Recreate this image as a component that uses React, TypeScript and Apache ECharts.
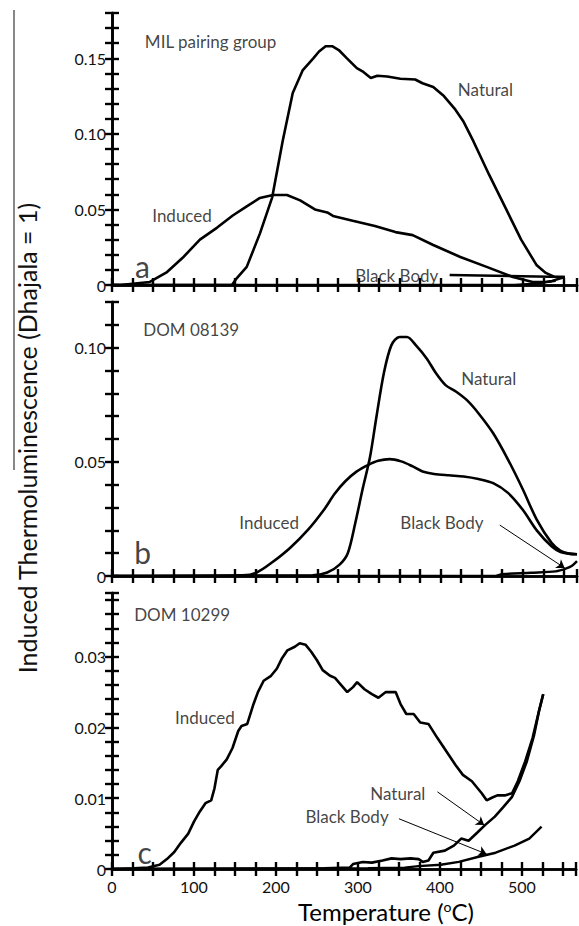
import React, { useEffect, useRef } from "react";
import * as echarts from "echarts";

// ---------- data ----------
const X_MAX = 566;
const X_TICK = 25;
const X_LABELS = [0, 100, 200, 300, 400, 500];
const Y_MAX = [0.18, 0.12, 0.039];
const Y_TICK = [0.01, 0.01, 0.002];
const Y_LABEL_STEP = [0.05, 0.05, 0.01];

// Panel a — MIL pairing group
const naturalA = [[0,0],[146,0],[152,0.0046],[164,0.012],[180,0.034],[195,0.058],[208,0.096],[220,0.127],[232,0.142],[245,0.150],[252,0.1545],[260,0.158],[268,0.158],[276,0.1555],[286,0.150],[298,0.1435],[306,0.141],[315,0.137],[323,0.1385],[335,0.138],[351,0.1365],[369,0.136],[378,0.1335],[391,0.131],[404,0.125],[418,0.116],[428,0.108],[440,0.095],[459,0.073],[479,0.051],[498,0.030],[517,0.013],[528,0.008],[538,0.0055],[551,0.0053]];
const inducedA = [[0,0],[10,0],[46,0.002],[67,0.0086],[86,0.018],[107,0.030],[128,0.038],[147,0.046],[164,0.052],[180,0.0576],[196,0.0596],[213,0.0596],[229,0.056],[247,0.050],[262,0.048],[269,0.0457],[293,0.0425],[320,0.039],[345,0.035],[366,0.033],[391,0.0265],[424,0.0185],[456,0.012],[488,0.0053],[512,0.002],[530,0.0022],[540,0.0028]];
const blackBodyA = [[0,0],[490,0],[515,0.0008],[535,0.0025],[551,0.0053]];

// Panel b — DOM 08139
const naturalB = [[0,0],[244,0.0003],[262,0.0015],[277,0.005],[287,0.010],[296,0.023],[305,0.038],[314,0.052],[322,0.070],[331,0.089],[340,0.101],[350,0.1047],[359,0.1047],[370,0.101],[383,0.0953],[394,0.089],[406,0.0836],[419,0.0807],[432,0.077],[446,0.0713],[464,0.0625],[482,0.051],[500,0.038],[517,0.0247],[535,0.0145],[546,0.011],[556,0.0098],[566,0.0095]];
const inducedB = [[0,0],[159,0.0003],[176,0.0015],[195,0.006],[217,0.0124],[239,0.0204],[258,0.029],[271,0.036],[284,0.0415],[298,0.0458],[312,0.0487],[324,0.0505],[338,0.0512],[352,0.0502],[366,0.048],[378,0.0458],[392,0.0447],[410,0.0441],[428,0.0436],[446,0.0425],[464,0.0407],[482,0.0364],[500,0.029],[517,0.020],[535,0.013],[546,0.0105],[556,0.0098],[566,0.0095]];
const blackBodyB = [[0,0],[465,0],[475,0.0008],[510,0.0014],[540,0.002],[553,0.0033],[560,0.0045],[566,0.0065]];

// Panel c — DOM 10299
const inducedC = [[0,0],[27,0.0001],[44,0.0002],[58,0.0006],[67,0.0014],[76,0.0024],[84,0.0037],[93,0.0050],[100,0.0067],[107,0.0081],[114,0.0093],[121,0.0097],[125,0.0114],[129,0.0140],[133,0.0145],[140,0.0155],[147,0.0171],[154,0.0195],[158,0.0202],[165,0.0205],[172,0.0231],[178,0.0250],[185,0.0266],[194,0.0273],[201,0.0283],[207,0.0297],[214,0.0309],[223,0.0314],[229,0.0319],[236,0.0317],[243,0.0307],[250,0.0295],[257,0.0281],[266,0.0273],[272,0.0270],[278,0.0262],[287,0.0250],[294,0.0257],[299,0.0264],[308,0.0254],[317,0.0247],[325,0.0242],[334,0.0250],[346,0.0250],[352,0.0233],[359,0.0219],[368,0.0219],[376,0.0207],[386,0.0205],[397,0.0185],[408,0.0166],[419,0.0147],[428,0.0133],[439,0.0124],[451,0.0107],[457,0.0097],[464,0.0101],[470,0.0104],[479,0.0104],[488,0.0107],[495,0.0124],[504,0.0152],[513,0.0185],[521,0.0224],[526,0.0247]];
const naturalC = [[0,0],[259,0.0001],[290,0.0002],[294,0.0007],[306,0.0010],[317,0.0009],[330,0.0012],[341,0.0015],[352,0.0014],[364,0.0015],[374,0.0014],[379,0.0010],[386,0.0012],[392,0.0023],[406,0.0026],[417,0.0033],[426,0.0043],[435,0.0040],[446,0.0052],[455,0.0062],[467,0.0074],[477,0.0087],[488,0.0102],[497,0.0124],[506,0.0152],[515,0.0190],[521,0.0224],[526,0.0247]];
const blackBodyC = [[0,0],[312,0.0001],[357,0.0002],[374,0.0004],[401,0.0006],[423,0.0010],[446,0.0017],[468,0.0023],[491,0.0033],[509,0.0043],[524,0.0060]];

// Annotations: [T, value, text, size]
const notesA = [[40,0.161,"MIL pairing group",17],[421,0.1297,"Natural",17],[49,0.0463,"Induced",17],[28,0.0125,"a",30],[296,0.0066,"Black Body",17]];
const notesB = [[38,0.108,"DOM 08139",17],[425,0.0865,"Natural",17],[155,0.0233,"Induced",17],[351,0.0233,"Black Body",17],[27,0.0105,"b",30]];
const notesC = [[27,0.0359,"DOM 10299",17],[77,0.0214,"Induced",17],[315,0.0107,"Natural",17],[236,0.0074,"Black Body",17],[31,0.0024,"c",30]];

// Pointer lines: [[x1,y1],[x2,y2], width, arrow]
const pointersA = [[[411,0.0066],[551,0.0053],2.5,false]];
const pointersB = [[[472,0.0223],[551,0.0035],1,true]];
const pointersC = [[[397,0.0109],[454,0.0062],1,true],[[350,0.0071],[457,0.0021],1,true]];

const GRIDS = [
  { left: 112, top: 13, width: 465, height: 272 },
  { left: 112, top: 302, width: 465, height: 274 },
  { left: 112, top: 593, width: 465, height: 276 },
];

const FONT = "Lato";

export default function App() {
  const ref = useRef<HTMLDivElement>(null);
  useEffect(() => {
    if (!ref.current) return;
    const chart = echarts.init(ref.current, undefined, { renderer: "svg" });
    const black = "#000";
    const xAxes: any[] = [];
    const yAxes: any[] = [];
    const series: any[] = [];
    const panels = [
      { nat: naturalA, ind: inducedA, bb: blackBodyA, notes: notesA, ptr: pointersA, smooth: false },
      { nat: naturalB, ind: inducedB, bb: blackBodyB, notes: notesB, ptr: pointersB, smooth: 0.3 },
      { nat: naturalC, ind: inducedC, bb: blackBodyC, notes: notesC, ptr: pointersC, smooth: false },
    ];
    panels.forEach((p, i) => {
      const axisLine = { show: true, lineStyle: { color: black, width: 2.6 } };
      const tick = { show: true, inside: true, length: 7, lineStyle: { color: black, width: 2.4 } };
      xAxes.push({
        type: "value", gridIndex: i, min: 0, max: X_MAX, interval: X_TICK, position: "bottom",
        axisLine, axisTick: tick, splitLine: { show: false },
        axisLabel: i === 2 ? {
          show: true, margin: 9, fontFamily: FONT, fontSize: 16, lineHeight: 16, color: "#111",
          formatter: (v: number) => (X_LABELS.includes(v) ? String(v) : ""),
        } : { show: false },
      });
      xAxes.push({
        type: "value", gridIndex: i, min: 0, max: X_MAX, interval: X_TICK, position: "top",
        axisLine, axisTick: tick, splitLine: { show: false }, axisLabel: { show: false },
      });
      const step = Y_LABEL_STEP[i];
      yAxes.push({
        type: "value", gridIndex: i, min: 0, max: Y_MAX[i], interval: Y_TICK[i], position: "left",
        axisLine, axisTick: tick, splitLine: { show: false },
        axisLabel: {
          show: true, margin: 6, fontFamily: FONT, fontSize: 16, color: "#111",
          formatter: (v: number) => {
            const r = v / step;
            if (Math.abs(r - Math.round(r)) > 1e-6) return "";
            if (Math.round(r) === 0) return "0";
            return v.toFixed(2);
          },
        },
      });
      yAxes.push({
        type: "value", gridIndex: i, min: 0, max: Y_MAX[i], interval: Y_TICK[i], position: "right",
        axisLine, axisTick: tick, splitLine: { show: false }, axisLabel: { show: false },
      });
      const xi = i * 2, yi = i * 2;
      const lineCommon = {
        type: "line", xAxisIndex: xi, yAxisIndex: yi, showSymbol: false, symbol: "none",
        lineStyle: { color: black, width: 2.6 }, smooth: p.smooth, silent: true,
      };
      series.push({ ...lineCommon, name: `Natural ${i}`, data: p.nat });
      series.push({ ...lineCommon, name: `Induced ${i}`, data: p.ind });
      series.push({ ...lineCommon, name: `Black Body ${i}`, data: p.bb, lineStyle: { color: black, width: 2.4 } });
      series.push({
        type: "scatter", xAxisIndex: xi, yAxisIndex: yi, symbolSize: 0, silent: true,
        data: p.notes.map((n: any) => ({
          value: [n[0], n[1]],
          label: {
            show: true, position: [0, 0], align: "left", verticalAlign: "middle",
            formatter: n[2], fontFamily: FONT, fontSize: n[3], color: "#111",
          },
        })),
        markLine: {
          silent: true, animation: false,
          label: { show: false },
          data: p.ptr.map((q: any) => [
            { coord: q[0], symbol: "none", lineStyle: { color: black, width: q[2], type: "solid" } },
            { coord: q[1], symbol: q[3] ? "arrow" : "none", symbolSize: 8 },
          ]),
        },
      });
    });

    chart.setOption({
      animation: false,
      backgroundColor: "#fff",
      grid: GRIDS.map((g) => ({ ...g, containLabel: false })),
      xAxis: xAxes,
      yAxis: yAxes,
      series,
      graphic: [
        {
          type: "line", shape: { x1: 14, y1: 10, x2: 14, y2: 470 },
          style: { stroke: "#888", lineWidth: 2 }, silent: true,
        },
        {
          type: "text", x: 27, y: 438, rotation: Math.PI / 2,
          style: {
            text: "Induced Thermoluminescence (Dhajala = 1)", fontFamily: FONT, fontSize: 25,
            fill: "#111", align: "center", verticalAlign: "middle",
          },
        },
        {
          type: "text", x: 386, y: 911,
          style: {
            text: "{a|Temperature (}{s|o}{a|C)}", align: "center", verticalAlign: "middle",
            rich: {
              a: { fontFamily: FONT, fontSize: 24, lineHeight: 24, color: "#111" },
              s: { fontFamily: FONT, fontSize: 14, lineHeight: 14, color: "#111", verticalAlign: "top", padding: [0, 0, 7, 0] },
            },
          },
        },
      ],
    });
    return () => chart.dispose();
  }, []);
  return <div ref={ref} style={{ position: "fixed", left: 0, top: 0, width: 579, height: 926 }} />;
}
